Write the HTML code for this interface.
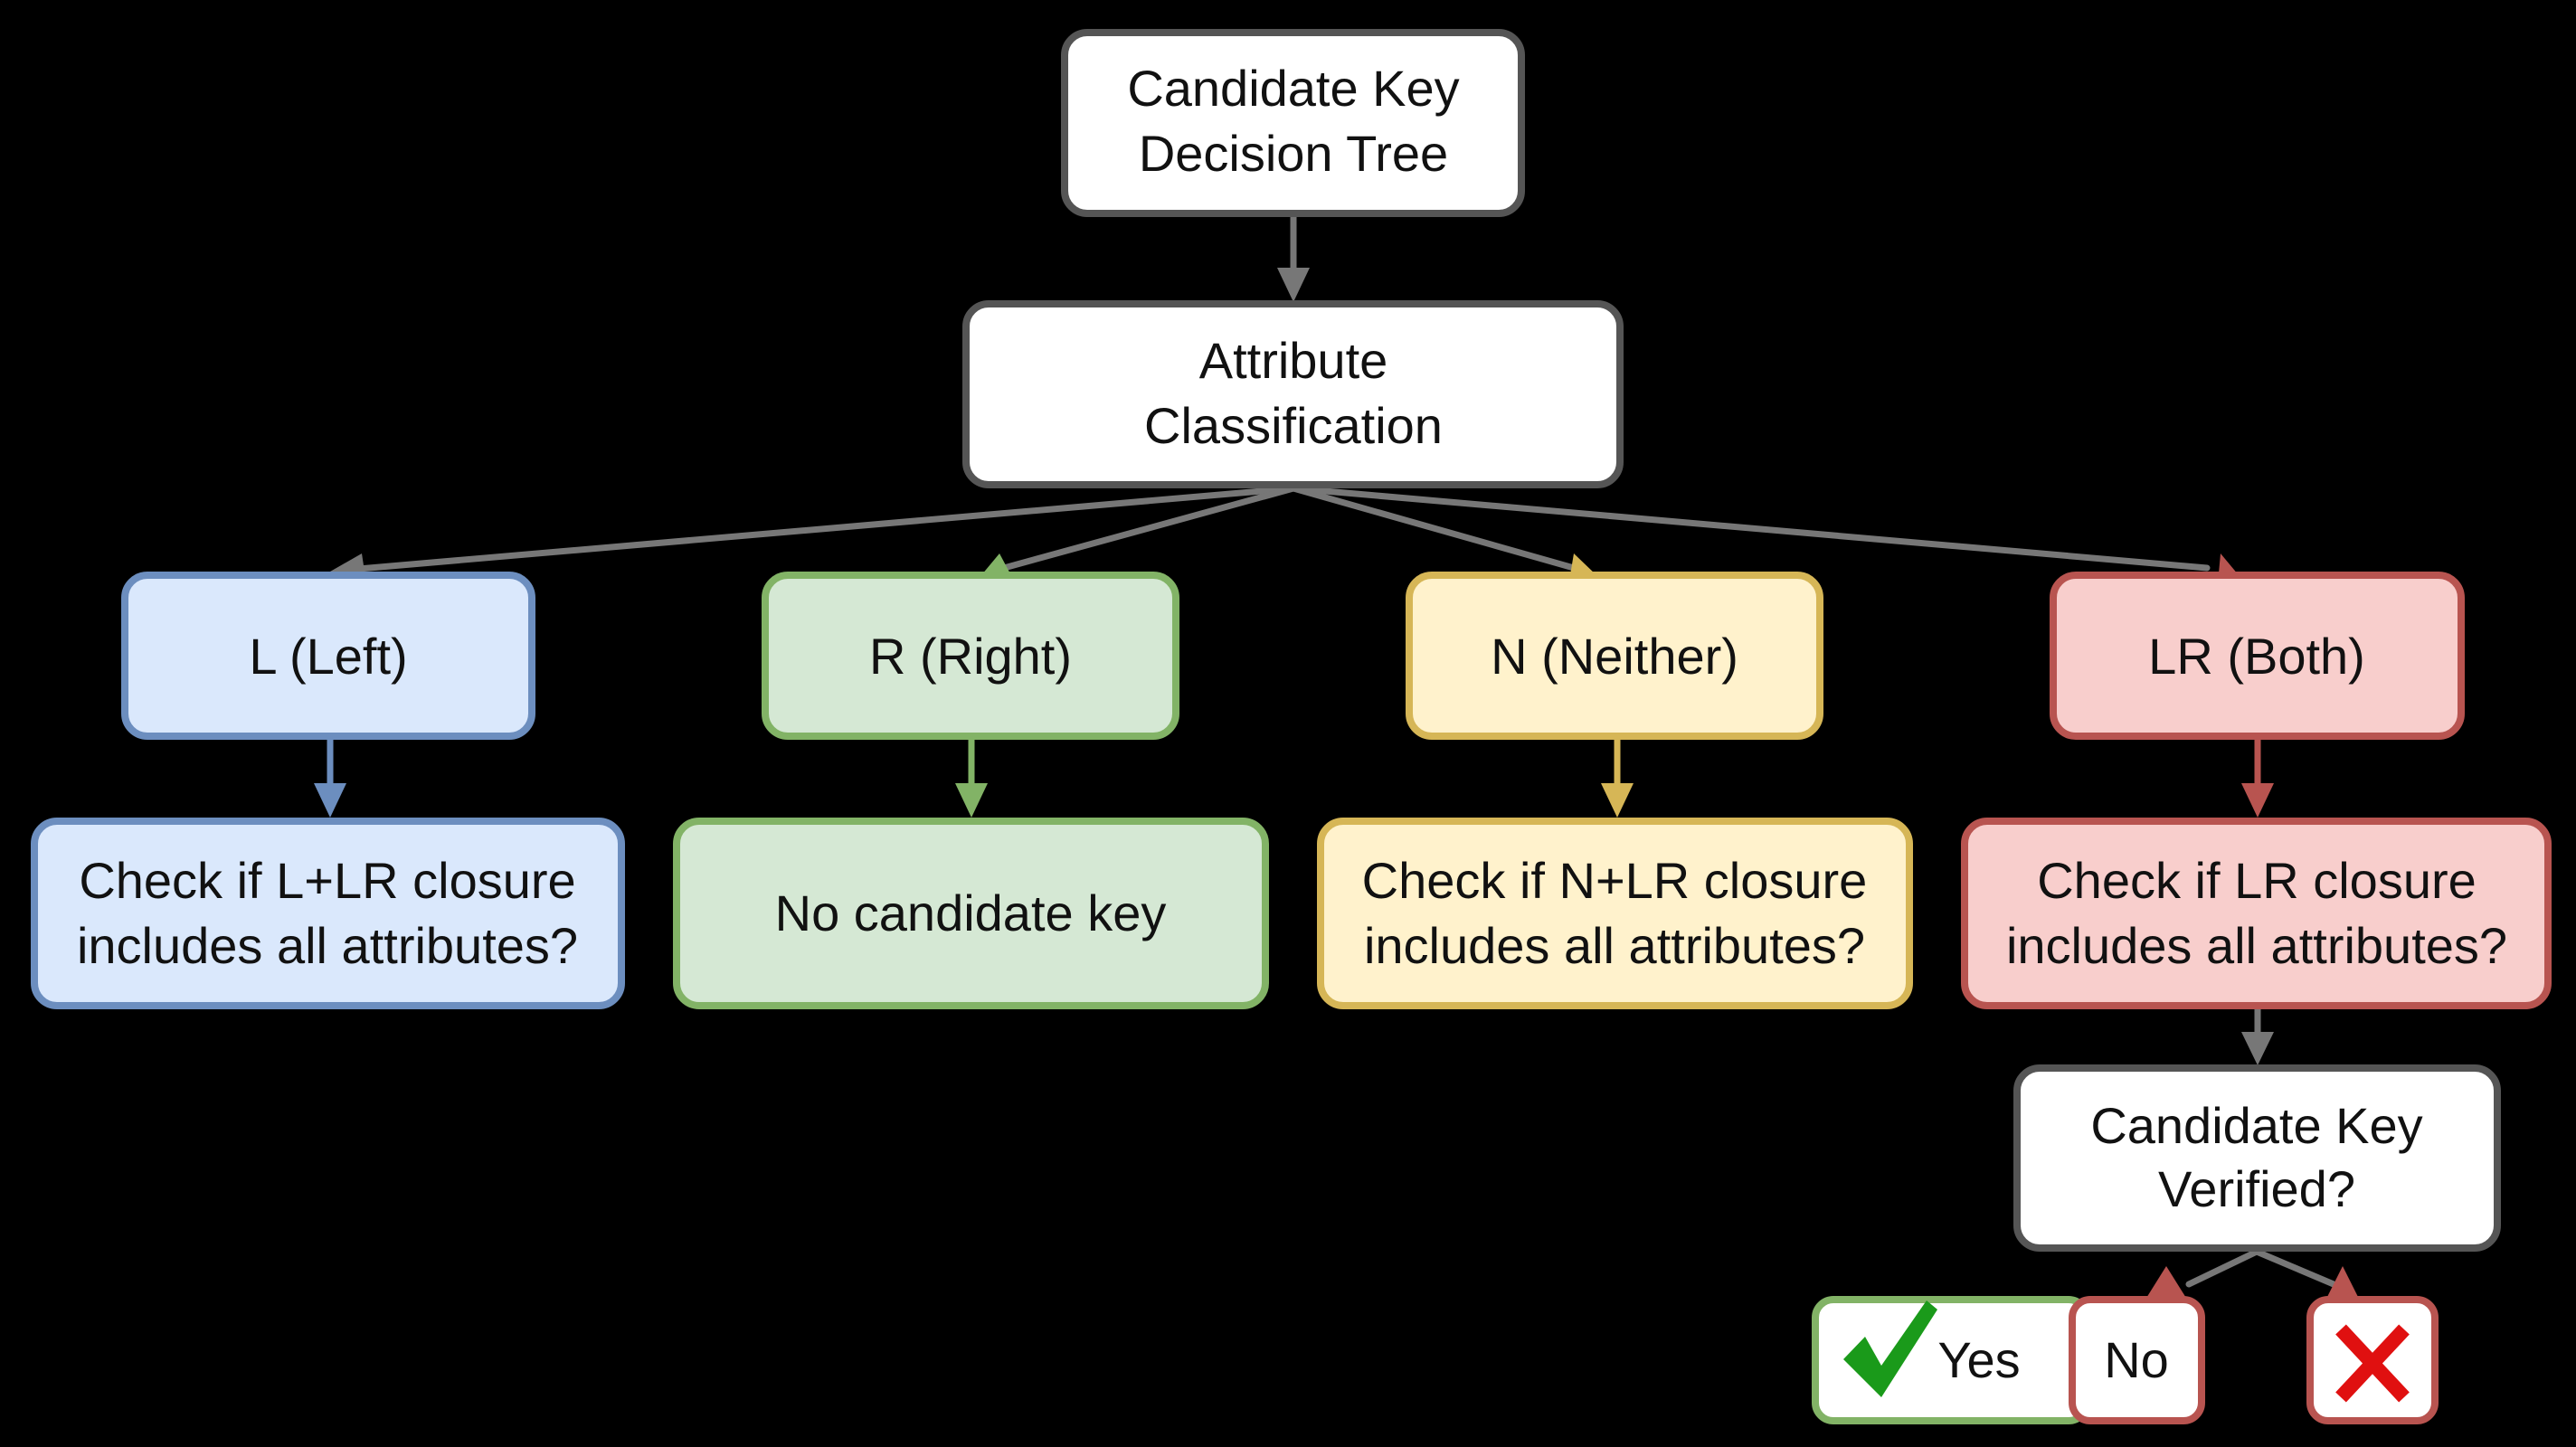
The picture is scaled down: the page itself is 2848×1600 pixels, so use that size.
<!DOCTYPE html>
<html><head><meta charset="utf-8"><style>
html,body{margin:0;padding:0;background:#000;}
svg{display:block}
text{font-family:"Liberation Sans",sans-serif;font-size:56px;fill:#111;text-anchor:middle}
</style></head><body>
<svg width="2848" height="1600" viewBox="0 0 2848 1600" xmlns="http://www.w3.org/2000/svg">
<rect width="2848" height="1600" fill="#000"/>
<defs>
<marker id="ag" markerWidth="8" markerHeight="8" refX="6" refY="4" orient="auto" markerUnits="strokeWidth"><path d="M0,0 L8,4 L0,8z" fill="#777"/></marker>
</defs>
<g stroke-linecap="round">
<!-- top to AC -->
<line x1="1430" y1="238" x2="1430" y2="300" stroke="#777" stroke-width="7"/>
<path d="M1412,296 L1448,296 L1430,334z" fill="#777"/>
<!-- AC to children -->
<line x1="1430" y1="540" x2="385" y2="630" stroke="#777" stroke-width="7"/>
<path d="M365,632 L400,612 L405,645z" fill="#777"/>
<line x1="1430" y1="540" x2="1110" y2="628" stroke="#777" stroke-width="7"/>
<path d="M1085,636 L1105,612 L1120,640z" fill="#82b366"/>
<line x1="1430" y1="540" x2="1740" y2="628" stroke="#777" stroke-width="7"/>
<path d="M1765,636 L1740,612 L1735,642z" fill="#d6b656"/>
<line x1="1430" y1="540" x2="2440" y2="628" stroke="#777" stroke-width="7"/>
<path d="M2475,636 L2455,612 L2452,645z" fill="#b85450"/>
<!-- vertical -->
<line x1="365" y1="816" x2="365" y2="870" stroke="#6c8ebf" stroke-width="7"/><path d="M347,866 L383,866 L365,904z" fill="#6c8ebf"/>
<line x1="1074" y1="816" x2="1074" y2="870" stroke="#82b366" stroke-width="7"/><path d="M1056,866 L1092,866 L1074,904z" fill="#82b366"/>
<line x1="1788" y1="816" x2="1788" y2="870" stroke="#d6b656" stroke-width="7"/><path d="M1770,866 L1806,866 L1788,904z" fill="#d6b656"/>
<line x1="2496" y1="816" x2="2496" y2="870" stroke="#b85450" stroke-width="7"/><path d="M2478,866 L2514,866 L2496,904z" fill="#b85450"/>
<line x1="2496" y1="1114" x2="2496" y2="1145" stroke="#777" stroke-width="7"/><path d="M2478,1141 L2514,1141 L2496,1178z" fill="#777"/>
<!-- verified to no/x -->
<line x1="2495" y1="1384" x2="2420" y2="1420" stroke="#777" stroke-width="7"/>
<line x1="2495" y1="1384" x2="2580" y2="1420" stroke="#777" stroke-width="7"/>
<path d="M2395,1400 L2370,1440 L2420,1440z" fill="#b85450"/>
<path d="M2590,1400 L2570,1440 L2610,1440z" fill="#b85450"/>
</g>
<g stroke-width="8">
<rect x="1177" y="36" width="505" height="200" rx="25" fill="#fff" stroke="#555"/>
<rect x="1068" y="336" width="723" height="200" rx="25" fill="#fff" stroke="#555"/>
<rect x="138" y="636" width="450" height="178" rx="25" fill="#dae8fc" stroke="#6c8ebf"/>
<rect x="846" y="636" width="454" height="178" rx="25" fill="#d5e8d4" stroke="#82b366"/>
<rect x="1558" y="636" width="454" height="178" rx="25" fill="#fff2cc" stroke="#d6b656"/>
<rect x="2270" y="636" width="451" height="178" rx="25" fill="#f8cecc" stroke="#b85450"/>
<rect x="38" y="908" width="649" height="204" rx="25" fill="#dae8fc" stroke="#6c8ebf"/>
<rect x="748" y="908" width="651" height="204" rx="25" fill="#d5e8d4" stroke="#82b366"/>
<rect x="1460" y="908" width="651" height="204" rx="25" fill="#fff2cc" stroke="#d6b656"/>
<rect x="2172" y="908" width="645" height="204" rx="25" fill="#f8cecc" stroke="#b85450"/>
<rect x="2230" y="1181" width="531" height="199" rx="25" fill="#fff" stroke="#555"/>
<rect x="2007" y="1437" width="300" height="134" rx="20" fill="#fff" stroke="#82b366"/>
<rect x="2291" y="1437" width="143" height="134" rx="20" fill="#fff" stroke="#b85450"/>
<rect x="2554" y="1437" width="138" height="134" rx="20" fill="#fff" stroke="#b85450"/>
</g>
<text x="1430" y="117">Candidate Key</text><text x="1430" y="189">Decision Tree</text>
<text x="1430" y="418">Attribute</text><text x="1430" y="490">Classification</text>
<text x="363" y="745">L (Left)</text>
<text x="1073" y="745">R (Right)</text>
<text x="1785" y="745">N (Neither)</text>
<text x="2495" y="745">LR (Both)</text>
<text x="362" y="993">Check if L+LR closure</text><text x="362" y="1065">includes all attributes?</text>
<text x="1073" y="1029">No candidate key</text>
<text x="1785" y="993">Check if N+LR closure</text><text x="1785" y="1065">includes all attributes?</text>
<text x="2495" y="993">Check if LR closure</text><text x="2495" y="1065">includes all attributes?</text>
<text x="2495" y="1264">Candidate Key</text><text x="2495" y="1334">Verified?</text>
<path d="M2038,1503 L2062,1478 L2080,1510 L2130,1438 L2142,1448 L2080,1545z" fill="#1a9a1a"/>
<text x="2188" y="1523">Yes</text>
<text x="2362" y="1523">No</text>
<g stroke="#e01010" stroke-width="16"><line x1="2588" y1="1470" x2="2658" y2="1545"/><line x1="2658" y1="1470" x2="2588" y2="1545"/></g>
</svg>
</body></html>
